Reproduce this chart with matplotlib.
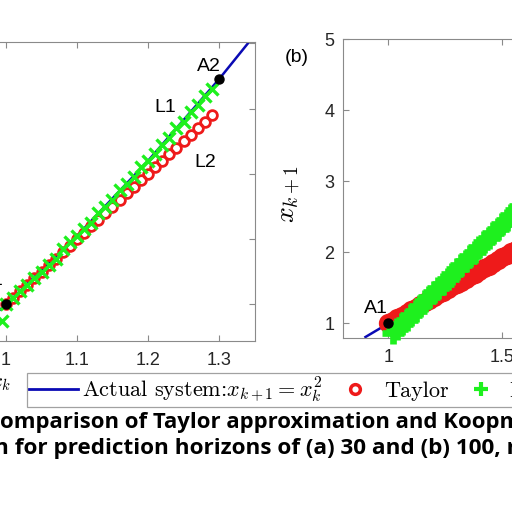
import matplotlib
matplotlib.use("Agg")
import matplotlib.pyplot as plt
from matplotlib.lines import Line2D

plt.rcParams["mathtext.fontset"] = "cm"
plt.rcParams["font.family"] = ["Liberation Sans", "DejaVu Sans"]

# actual system x_{k+1} = x_k^2 (sample points)
actual_x = [0.9, 1.0, 1.1, 1.2, 1.3, 1.4, 1.5, 1.6, 1.8, 2.0, 2.2]
actual_y = [0.81, 1.0, 1.21, 1.44, 1.69, 1.96, 2.25, 2.56, 3.24, 4.0, 4.84]

# (a) horizon 30
a_x = [1.00, 1.01, 1.02, 1.03, 1.04, 1.05, 1.06, 1.07, 1.08, 1.09,
       1.10, 1.11, 1.12, 1.13, 1.14, 1.15, 1.16, 1.17, 1.18, 1.19,
       1.20, 1.21, 1.22, 1.23, 1.24, 1.25, 1.26, 1.27, 1.28, 1.29]
taylor_a = [1.00, 1.02, 1.04, 1.06, 1.08, 1.10, 1.12, 1.14, 1.16, 1.18,
            1.20, 1.22, 1.24, 1.26, 1.28, 1.30, 1.32, 1.34, 1.36, 1.38,
            1.40, 1.42, 1.44, 1.46, 1.48, 1.50, 1.52, 1.54, 1.56, 1.58]
koop_a_x = [0.995] + a_x
koop_a = [0.95, 1.00, 1.02, 1.04, 1.06, 1.08, 1.10, 1.12, 1.14, 1.17, 1.19,
          1.21, 1.23, 1.25, 1.28, 1.30, 1.32, 1.35, 1.37, 1.39, 1.42,
          1.44, 1.46, 1.49, 1.51, 1.54, 1.56, 1.59, 1.61, 1.64, 1.66]

# (b) horizon 100 (visible part)
taylor_b_x = [1.00, 1.02, 1.04, 1.06, 1.08, 1.10, 1.12, 1.14, 1.16, 1.18,
              1.20, 1.22, 1.24, 1.26, 1.28, 1.30, 1.32, 1.34, 1.36, 1.38,
              1.40, 1.42, 1.44, 1.46, 1.48, 1.50, 1.52, 1.54, 1.56, 1.58, 1.60]
taylor_b = [1.00, 1.04, 1.07, 1.11, 1.15, 1.19, 1.22, 1.26, 1.30, 1.33,
            1.37, 1.41, 1.44, 1.48, 1.52, 1.56, 1.59, 1.63, 1.67, 1.70,
            1.74, 1.78, 1.81, 1.85, 1.89, 1.93, 1.96, 2.00, 2.04, 2.07, 2.11]
koop_b_x = [1.02, 1.04, 1.06, 1.08, 1.10, 1.12, 1.14, 1.16, 1.18, 1.20,
            1.22, 1.24, 1.26, 1.28, 1.30, 1.32, 1.34, 1.36, 1.38, 1.40,
            1.42, 1.44, 1.46, 1.48, 1.50, 1.52, 1.54, 1.56, 1.58, 1.60]
koop_b = [0.86, 0.92, 0.99, 1.05, 1.12, 1.18, 1.24, 1.31, 1.37, 1.44,
          1.50, 1.56, 1.63, 1.69, 1.76, 1.82, 1.88, 1.95, 2.01, 2.08,
          2.14, 2.20, 2.27, 2.33, 2.40, 2.46, 2.52, 2.59, 2.65, 2.72]

BLUE = "#0a0ab4"
RED = "#ee1a1a"
GREEN = "#1ef01e"
GRAY = "#8a8a8a"

W = 512.0


def box(l, t, r, b):
    return [l / W, 1 - b / W, (r - l) / W, (b - t) / W]


def style(ax, xpad, ypad):
    for s in ax.spines.values():
        s.set_color(GRAY)
        s.set_linewidth(0.8)
    ax.tick_params(direction="in", length=4, width=0.8, color=GRAY,
                   top=True, right=True, labelsize=13, labelcolor="#262626")
    ax.tick_params(axis="x", pad=xpad)
    ax.tick_params(axis="y", pad=ypad)


fig = plt.figure(figsize=(5.12, 5.12), dpi=100)

# panel (a)
ax_a = fig.add_axes(box(-65, 41.7, 254.5, 340.7))
ax_a.plot(actual_x, actual_y, color=BLUE, lw=1.8, zorder=2)
ax_a.plot(a_x, taylor_a, "o", mfc="none", mec=RED, ms=7, mew=2, zorder=3)
ax_a.plot(koop_a_x, koop_a, "x", color=GREEN, ms=8.5, mew=2.4, zorder=4)
ax_a.plot([1.0, 1.3], [1.0, 1.69], "o", color="black", ms=6.5, zorder=5)
ax_a.set_xlim(0.9, 1.35)
ax_a.set_ylim(0.889, 1.805)
ax_a.set_xticks([0.9, 1.0, 1.1, 1.2, 1.3])
ax_a.set_xticklabels(["0.9", "1", "1.1", "1.2", "1.3"])
ax_a.set_yticks([1.0, 1.2, 1.4, 1.6, 1.8])
style(ax_a, 8, 6)
ax_a.text(0.9965, 1.06, "A1", fontsize=14, ha="right", va="baseline")
ax_a.text(1.303, 1.715, "A2", fontsize=14, ha="right", va="baseline")
ax_a.text(1.2085, 1.589, "L1", fontsize=14, ha="left", va="baseline")
ax_a.text(1.265, 1.421, "L2", fontsize=14, ha="left", va="baseline")
ax_a.set_xlabel(r"$x_k$", fontsize=15)
ax_a.xaxis.set_label_coords(0.205, -0.112)

# panel (b)
ax_b = fig.add_axes(box(342.7, 39, 661.7, 337.7))
ax_b.plot(actual_x, actual_y, color=BLUE, lw=1.8, zorder=2)
ax_b.plot(taylor_b_x, taylor_b, "o", mfc="none", mec=RED, ms=10, mew=3.9,
          zorder=3)
ax_b.plot(koop_b_x, koop_b, "+", color=GREEN, ms=16, mew=4.8, zorder=4,
          clip_on=False)
ax_b.plot([1.0], [1.0], "o", color="black", ms=6.5, zorder=5)
ax_b.set_xlim(0.8, 2.2)
ax_b.set_ylim(0.8, 5)
ax_b.set_xticks([1, 1.5, 2])
ax_b.set_xticklabels(["1", "1.5", "2"])
ax_b.set_yticks([1, 2, 3, 4, 5])
style(ax_b, 8, 6)
ax_b.text(1.0, 1.154, "A1", fontsize=14, ha="right", va="baseline")
ax_b.set_ylabel(r"$x_{k+1}$", fontsize=20)
ax_b.yaxis.set_label_coords(-0.124, 0.481)
fig.text(297 / W, 1 - 57 / W, "(b)", fontsize=14, ha="center", va="center")

handles = [
    Line2D([], [], color=BLUE, lw=2),
    Line2D([], [], ls="none", marker="o", mfc="none", mec=RED, ms=7, mew=2.5),
    Line2D([], [], ls="none", marker="+", color=GREEN, ms=10, mew=3),
]
labels = [r"Actual system:$x_{k+1}=x_k^2$", "Taylor", "Koopman"]
leg = fig.legend(handles, labels, loc="upper left",
                 bbox_to_anchor=(27 / W, 1 - 373 / W), ncol=3,
                 prop={"family": "cmr10", "size": 16},
                 frameon=True, fancybox=False, edgecolor=GRAY,
                 handlelength=2.2, handletextpad=0.2, columnspacing=0.36,
                 borderpad=0.08, borderaxespad=0)
leg.get_frame().set_linewidth(0.9)

fig.text(0, 1 - 428 / W, "omparison of Taylor approximation and Koopman",
         fontsize=15.95, fontweight="bold", family="Open Sans", va="baseline")
fig.text(-6 / W, 1 - 454 / W,
         "n for prediction horizons of (a) 30 and (b) 100, respectively.",
         fontsize=16.2, fontweight="bold", family="Open Sans", va="baseline")

fig.savefig("out.png", dpi=100)
